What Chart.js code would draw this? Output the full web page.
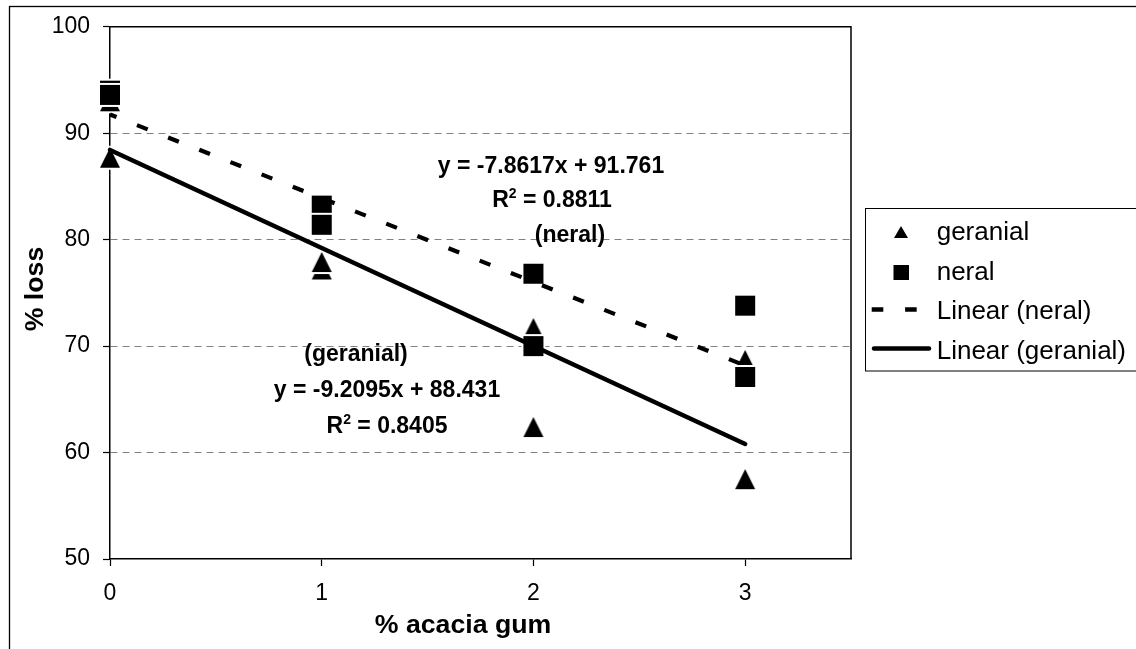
<!DOCTYPE html>
<html>
<head>
<meta charset="utf-8">
<script src="https://cdn.jsdelivr.net/npm/chart.js@4"></script>
<style>
  body { margin: 0; background: #fff; }
  canvas { display: block; }
</style>
</head>
<body>
<canvas id="lossChart" width="1136" height="649"></canvas>
<script>
// % loss of geranial and neral against % acacia gum

const gumLevels = [0, 1, 2, 3];
const lossTicks = [50, 60, 70, 80, 90, 100];

const geranialX = [0, 0, 1, 1, 2, 2, 3, 3];
const geranialLoss = [93.0, 87.7, 77.2, 77.9, 71.7, 62.4, 68.7, 57.5];

const neralX = [0, 0, 1, 1, 2, 2, 3, 3];
const neralLoss = [94.0, 93.6, 83.2, 81.4, 76.8, 70.0, 73.8, 67.1];

// trendlines as printed on the chart: [slope, intercept]
const neralFit = [-7.8617, 91.761];
const geranialFit = [-9.2095, 88.431];
const fitRange = [0, 3];

const FONT = '"Liberation Sans", Arial, sans-serif';

function toPoints(xs, ys) {
    return xs.map((x, i) => ({ x: x, y: ys[i] }));
}

function fitPoints(fit) {
    return fitRange.map(x => ({ x: x, y: fit[1] + fit[0] * x }));
}

// Excel style markers: black with a thin white edge
function marker(shape) {
    const c = document.createElement("canvas");
    c.width = 26;
    c.height = 26;
    const g = c.getContext("2d");
    g.beginPath();
    if (shape === "triangle") {
        g.moveTo(13, 3);
        g.lineTo(23, 23);
        g.lineTo(3, 23);
        g.closePath();
    } else {
        g.rect(3, 3, 20, 20);
    }
    g.lineJoin = "round";
    g.lineWidth = 4;
    g.strokeStyle = "#fff";
    g.stroke();
    g.fillStyle = "#000";
    g.fill();
    return c;
}

// "^" marks a superscript part
const notes = [
    { text: "y = -7.8617x + 91.761", x: 551, y: 165 },
    { text: "R^2^ = 0.8811", x: 552, y: 199 },
    { text: "(neral)", x: 570, y: 234 },
    { text: "(geranial)", x: 356, y: 353 },
    { text: "y = -9.2095x + 88.431", x: 387, y: 389 },
    { text: "R^2^ = 0.8405", x: 387, y: 425 }
];

function drawNote(ctx, n) {
    const parts = n.text.split("^");
    const fonts = parts.map((p, i) => (i % 2 ? "bold 14px " : "bold 23px ") + FONT);
    let total = 0;
    const widths = parts.map((p, i) => {
        ctx.font = fonts[i];
        const w = ctx.measureText(p).width;
        total += w;
        return w;
    });
    let x = n.x - total / 2;
    const base = n.y + 8.2;
    parts.forEach((p, i) => {
        ctx.font = fonts[i];
        ctx.fillText(p, x, i % 2 ? base - 9 : base);
        x += widths[i];
    });
}

const chartDecor = {
    id: "chartDecor",
    beforeDraw(chart) {
        const ctx = chart.ctx;
        ctx.save();
        ctx.fillStyle = "#fff";
        ctx.fillRect(0, 0, chart.width, chart.height);
        ctx.strokeStyle = "#000";
        ctx.lineWidth = 1.3;
        ctx.strokeRect(9.5, 6.5, chart.width + 20, chart.height + 20);
        ctx.restore();
    },
    beforeDatasetsDraw(chart) {
        const { ctx, chartArea: a } = chart;
        ctx.save();
        ctx.strokeStyle = "#000";
        ctx.lineWidth = 1.5;
        ctx.beginPath();
        ctx.moveTo(a.left, a.top);
        ctx.lineTo(a.right, a.top);
        ctx.lineTo(a.right, a.bottom);
        ctx.stroke();
        ctx.restore();
    },
    afterDraw(chart) {
        const ctx = chart.ctx;
        ctx.save();
        ctx.fillStyle = "#000";

        // trendline equations
        ctx.textAlign = "left";
        ctx.textBaseline = "alphabetic";
        notes.forEach(n => drawNote(ctx, n));

        // axis titles
        ctx.font = "bold 26.7px " + FONT;
        ctx.textAlign = "center";
        ctx.fillText("% acacia gum", 463, 633);
        ctx.save();
        ctx.translate(42.5, 289);
        ctx.rotate(-Math.PI / 2);
        ctx.fillText("% loss", 0, 0);
        ctx.restore();

        // legend
        ctx.strokeStyle = "#000";
        ctx.lineWidth = 1;
        ctx.strokeRect(865.5, 208.5, 300, 162.5);

        ctx.beginPath();
        ctx.moveTo(901, 226);
        ctx.lineTo(908, 238);
        ctx.lineTo(894, 238);
        ctx.closePath();
        ctx.fill();
        ctx.fillRect(893.5, 265, 15.5, 15);

        ctx.lineWidth = 4.5;
        ctx.setLineDash([11.6, 21.8]);
        ctx.beginPath();
        ctx.moveTo(871.7, 309.5);
        ctx.lineTo(918, 309.5);
        ctx.stroke();
        ctx.setLineDash([]);
        ctx.lineCap = "round";
        ctx.beginPath();
        ctx.moveTo(874, 348.5);
        ctx.lineTo(929, 348.5);
        ctx.stroke();

        ctx.font = "26px " + FONT;
        ctx.textAlign = "left";
        ["geranial", "neral", "Linear (neral)", "Linear (geranial)"].forEach((t, i) => {
            ctx.fillText(t, 936.7, 240 + i * 39.7);
        });
        ctx.restore();
    }
};

const ctx1 = document.getElementById("lossChart");

new Chart(ctx1, {
    type: "scatter",
    data: {
        datasets: [
            {
                label: "Linear (geranial)",
                data: fitPoints(geranialFit),
                showLine: true,
                borderColor: "#000",
                borderWidth: 4.5,
                borderCapStyle: "round",
                pointRadius: 0,
                clip: false,
                order: 0
            },
            {
                label: "Linear (neral)",
                data: fitPoints(neralFit),
                showLine: true,
                borderColor: "#000",
                borderWidth: 4.2,
                borderDash: [11.5, 22],
                borderDashOffset: 4.5,
                pointRadius: 0,
                clip: false,
                order: 0
            },
            {
                label: "neral",
                data: toPoints(neralX, neralLoss),
                pointStyle: marker("square"),
                pointRadius: 10,
                clip: false,
                order: 1
            },
            {
                label: "geranial",
                data: toPoints(geranialX, geranialLoss),
                pointStyle: marker("triangle"),
                pointRadius: 10,
                clip: false,
                order: 2
            }
        ]
    },
    options: {
        responsive: false,
        animation: false,
        events: [],
        layout: {
            padding: { left: 0, right: 285, top: 26.5, bottom: 0 }
        },
        plugins: {
            legend: { display: false },
            tooltip: { enabled: false }
        },
        scales: {
            x: {
                type: "linear",
                min: 0,
                max: 3.5,
                afterBuildTicks: s => { s.ticks = gumLevels.map(v => ({ value: v })); },
                afterFit: s => { s.height = 90; },
                ticks: {
                    color: "#000",
                    padding: 14,
                    font: { family: FONT, size: 23 }
                },
                grid: {
                    drawOnChartArea: false,
                    tickLength: 7,
                    tickColor: "#000",
                    tickWidth: 1.2
                },
                border: { color: "#000", width: 1.5 }
            },
            y: {
                type: "linear",
                min: 50,
                max: 100,
                afterBuildTicks: s => { s.ticks = lossTicks.map(v => ({ value: v })); },
                afterFit: s => { s.width = 110; },
                ticks: {
                    color: "#000",
                    padding: 13,
                    font: { family: FONT, size: 23 }
                },
                grid: {
                    color: c => (c.tick && (c.tick.value === 50 || c.tick.value === 100)) ? "rgba(0,0,0,0)" : "#808080",
                    lineWidth: 1,
                    tickLength: 7,
                    tickColor: "#000",
                    tickWidth: 1.2
                },
                border: { color: "#000", width: 1.5, dash: [7, 5] }
            }
        }
    },
    plugins: [chartDecor]
});
</script>
</body>
</html>
